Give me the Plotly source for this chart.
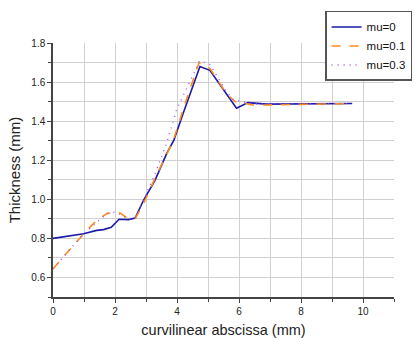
import plotly.graph_objects as go

x_mu0 = [0, 0.99, 1.41, 1.63, 1.88, 2.13, 2.43, 2.65, 2.92, 3.29, 3.67, 3.90, 4.20, 4.74, 5.06, 5.60, 5.92, 6.29, 6.88, 9.65]
y_mu0 = [0.80, 0.824, 0.841, 0.845, 0.857, 0.898, 0.896, 0.904, 0.995, 1.097, 1.235, 1.303, 1.44, 1.68, 1.66, 1.535, 1.466, 1.495, 1.487, 1.49]

x_mu01 = [0, 0.99, 1.41, 1.74, 2.0, 2.14, 2.43, 2.65, 2.92, 3.29, 3.88, 4.20, 4.71, 5.06, 5.60, 5.87, 6.45, 6.88, 9.65]
y_mu01 = [0.644, 0.824, 0.893, 0.927, 0.935, 0.932, 0.90, 0.90, 0.978, 1.107, 1.30, 1.46, 1.70, 1.67, 1.54, 1.50, 1.483, 1.483, 1.49]

x_mu03 = [0, 0.99, 1.74, 2.0, 2.43, 2.65, 2.92, 3.29, 3.67, 3.99, 4.74, 5.06, 5.60, 5.81, 6.45, 9.65]
y_mu03 = [0.644, 0.824, 0.927, 0.935, 0.90, 0.905, 0.995, 1.13, 1.29, 1.46, 1.71, 1.69, 1.55, 1.51, 1.488, 1.49]

names = ["mu=0", "mu=0.1", "mu=0.3"]

fig = go.Figure()
fig.add_trace(go.Scatter(x=x_mu0, y=y_mu0, mode="lines", name=names[0],
                         line=dict(color="#1a1aa6", width=1.6)))
fig.add_trace(go.Scatter(x=x_mu01, y=y_mu01, mode="lines", name=names[1],
                         line=dict(color="#ff8c1a", width=1.6, dash="dash")))
fig.add_trace(go.Scatter(x=x_mu03, y=y_mu03, mode="lines", name=names[2],
                         line=dict(color="#a64dff", width=1.4, dash="1px,5px")))

font = "Liberation Sans, Arial, sans-serif"
fig.update_layout(
    width=418, height=338,
    margin=dict(l=53, r=24, t=43, b=41, autoexpand=False),
    paper_bgcolor="white", plot_bgcolor="white",
    font=dict(family=font, size=10, color="#222"),
    showlegend=True,
    legend=dict(x=0.798, y=1.126, xanchor="left", yanchor="top",
                bordercolor="#555", borderwidth=1.5, bgcolor="white",
                font=dict(size=11.5, family=font, color="#111"),
                tracegroupgap=0, itemwidth=30),
    xaxis=dict(range=[0, 11], dtick=2, tick0=0, showgrid=True, gridcolor="#d0d0d0", gridwidth=1,
               showline=True, linecolor="#444", linewidth=1.5, ticks="outside", ticklen=4,
               tickcolor="#444", zeroline=False, automargin=False,
               minor=dict(dtick=1, showgrid=True, gridcolor="#d0d0d0", ticks="outside", ticklen=3, tickcolor="#444"),
               title=dict(text="curvilinear abscissa (mm)", font=dict(size=14.5, family=font, color="#222"), standoff=12),
               tickfont=dict(size=10, color="#222")),
    yaxis=dict(range=[0.5, 1.8], dtick=0.2, tick0=0.6, tickformat=".1f", showgrid=True,
               gridcolor="#d0d0d0", gridwidth=1,
               showline=True, linecolor="#444", linewidth=1.5, ticks="outside", ticklen=4,
               tickcolor="#444", zeroline=False, automargin=False,
               minor=dict(dtick=0.1, tick0=0.5, showgrid=True, gridcolor="#d0d0d0", ticks="outside", ticklen=3, tickcolor="#444"),
               title=dict(text="Thickness (mm)", font=dict(size=15, family=font, color="#222"), standoff=7),
               tickfont=dict(size=10, color="#222")),
)

fig.write_html("out.html", config={"displayModeBar": False},
               post_script="document.body.style.margin='0';document.body.style.padding='0';")
